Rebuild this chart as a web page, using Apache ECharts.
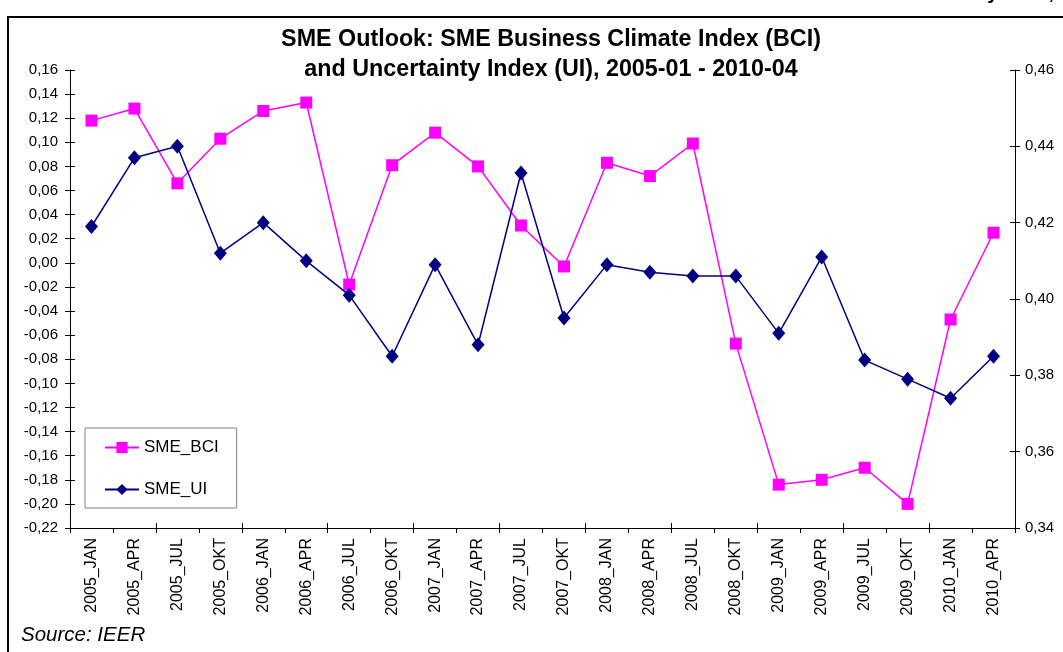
<!DOCTYPE html>
<html>
<head>
<meta charset="utf-8">
<script src="https://cdn.jsdelivr.net/npm/echarts@6/dist/echarts.min.js"></script>
<style>
html,body{margin:0;padding:0;background:#fff;}
#chart{width:1063px;height:652px;}
</style>
</head>
<body>
<div id="chart"></div>
<script>
const categories = ["2005_JAN","2005_APR","2005_JUL","2005_OKT","2006_JAN","2006_APR","2006_JUL","2006_OKT","2007_JAN","2007_APR","2007_JUL","2007_OKT","2008_JAN","2008_APR","2008_JUL","2008_OKT","2009_JAN","2009_APR","2009_JUL","2009_OKT","2010_JAN","2010_APR"];
const smeBCI = [0.118,0.128,0.066,0.103,0.126,0.133,-0.018,0.081,0.108,0.080,0.031,-0.003,0.083,0.072,0.099,-0.067,-0.184,-0.180,-0.170,-0.200,-0.047,0.025];
const smeUI = [0.419,0.437,0.440,0.412,0.420,0.410,0.401,0.385,0.409,0.388,0.433,0.395,0.409,0.407,0.406,0.406,0.391,0.411,0.384,0.379,0.374,0.385];
const leftMin = -0.22, leftMax = 0.16, leftStep = 0.02;
const rightMin = 0.34, rightMax = 0.46, rightStep = 0.02;
const titleText = "SME Outlook: SME Business Climate Index (BCI)\nand Uncertainty Index (UI), 2005-01 - 2010-04";
const sourceText = "Source: IEER";

const fmt = v => v.toFixed(2).replace('.', ',');
const font = '"Liberation Sans", Arial, sans-serif';
const chart = echarts.init(document.getElementById('chart'), null, {renderer:'canvas'});
const grid = {left:70, right:48, top:70, bottom:124, containLabel:false};
const tickStyle = {color:'#000', width:1};
chart.setOption({
  backgroundColor:'#fff',
  animation:false,
  textStyle:{fontFamily:font},
  graphic:[
    {type:'rect', shape:{x:8, y:17, width:1070, height:650}, style:{fill:null, stroke:'#000', lineWidth:2}, silent:true, z:-1},
    {type:'text', x:551, y:25, style:{text:titleText, font:'bold 23.3px "Liberation Sans", Arial, sans-serif', fill:'#000', textAlign:'center', textVerticalAlign:'top', lineHeight:30}},
    {type:'text', left:21, top:625, style:{text:sourceText, font:'italic 20.5px "Liberation Sans", Arial, sans-serif', fill:'#000'}},
    {type:'text', x:1054, y:3, style:{text:'Survey 2010,', font:'bold 20px "Liberation Sans", Arial, sans-serif', fill:'#000', textAlign:'right', textVerticalAlign:'bottom'}}
  ],
  legend:{
    orient:'vertical', left:85, top:428,
    data:['SME_BCI','SME_UI'],
    backgroundColor:'#fff', borderColor:'#808080', borderWidth:1,
    padding:[11,18,10,19], itemGap:25, itemWidth:34, itemHeight:14,
    textStyle:{fontFamily:font, fontSize:17, color:'#000'}
  },
  grid:grid,
  xAxis:[
    {type:'category', data:categories, boundaryGap:true,
      axisLine:{onZero:false, lineStyle:{color:'#000', width:1}},
      axisTick:{show:true, alignWithLabel:false, length:5, lineStyle:tickStyle},
      axisLabel:{rotate:90, interval:0, fontSize:16, color:'#000', margin:10, fontFamily:font},
      splitLine:{show:false}},
    {type:'category', data:categories, boundaryGap:true, position:'bottom',
      axisLine:{show:false, onZero:false}, axisTick:{show:true, inside:true, length:5, lineStyle:tickStyle},
      axisLabel:{show:false}, splitLine:{show:false}}
  ],
  yAxis:[
    {type:'value', min:leftMin, max:leftMax, interval:leftStep, position:'left',
      axisLine:{show:true, onZero:false, lineStyle:{color:'#000', width:1}},
      axisTick:{show:true, length:5, lineStyle:tickStyle},
      axisLabel:{formatter:fmt, fontSize:15, color:'#000', margin:12, fontFamily:font},
      splitLine:{show:false}},
    {type:'value', min:rightMin, max:rightMax, interval:rightStep, position:'right',
      axisLine:{show:true, onZero:false, lineStyle:{color:'#000', width:1}},
      axisTick:{show:true, length:5, lineStyle:tickStyle},
      axisLabel:{formatter:fmt, fontSize:15, color:'#000', margin:10, fontFamily:font},
      splitLine:{show:false}},
    {type:'value', min:leftMin, max:leftMax, interval:leftStep, position:'left',
      axisLine:{show:false, onZero:false}, axisTick:{show:true, inside:true, length:5, lineStyle:tickStyle},
      axisLabel:{show:false}, splitLine:{show:false}},
    {type:'value', min:rightMin, max:rightMax, interval:rightStep, position:'right',
      axisLine:{show:false, onZero:false}, axisTick:{show:true, inside:true, length:5, lineStyle:tickStyle},
      axisLabel:{show:false}, splitLine:{show:false}}
  ],
  series:[
    {name:'SME_BCI', type:'line', data:smeBCI, yAxisIndex:0, xAxisIndex:0,
      symbol:'rect', symbolSize:12, showAllSymbol:true,
      itemStyle:{color:'#FF00FF'}, lineStyle:{color:'#FF00FF', width:1.5}, z:3},
    {name:'SME_UI', type:'line', data:smeUI, yAxisIndex:1, xAxisIndex:0,
      symbol:'diamond', symbolSize:[13,15], showAllSymbol:true,
      itemStyle:{color:'#000080'}, lineStyle:{color:'#000080', width:1.5}, z:4}
  ]
});
</script>
</body>
</html>
